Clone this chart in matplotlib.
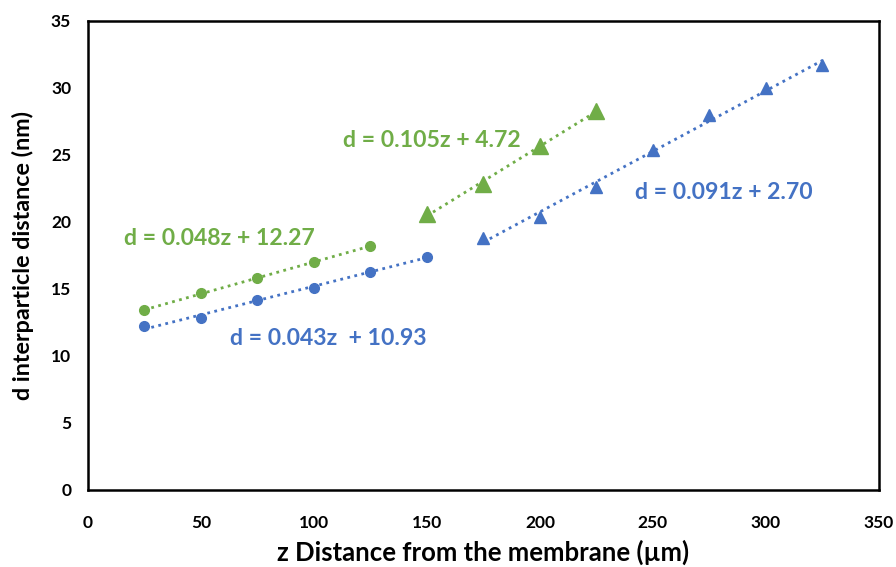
import numpy as np
import matplotlib.pyplot as plt

# data
z_circ_green = [25, 50, 75, 100, 125]
d_circ_green = [13.4, 14.7, 15.8, 17.0, 18.2]

z_circ_blue = [25, 50, 75, 100, 125, 150]
d_circ_blue = [12.2, 12.8, 14.2, 15.1, 16.3, 17.4]

z_tri_green = [150, 175, 200, 225]
d_tri_green = [20.6, 22.8, 25.7, 28.3]

z_tri_blue = [175, 200, 225, 250, 275, 300, 325]
d_tri_blue = [18.8, 20.4, 22.6, 25.4, 28.0, 30.0, 31.7]

GREEN = "#70AD47"
BLUE = "#4472C4"

plt.rcParams["font.family"] = ["Lato", "DejaVu Sans"]
plt.rcParams["font.weight"] = "bold"

fig = plt.figure(figsize=(8.96, 5.67), dpi=100)
ax = fig.add_axes([0.098, 0.136, 0.883, 0.827])


def trend(z, d, color):
    # linear trendline over the data range
    k, b = np.polyfit(z, d, 1)
    zz = np.array([min(z), max(z)])
    ax.plot(zz, k * zz + b, linestyle=(0, (1, 1.6)), color=color, lw=2)


trend(z_circ_green, d_circ_green, GREEN)
trend(z_circ_blue, d_circ_blue, BLUE)
trend(z_tri_green, d_tri_green, GREEN)
trend(z_tri_blue, d_tri_blue, BLUE)

ax.plot(z_circ_green, d_circ_green, "o", color=GREEN, ms=7, ls="none")
ax.plot(z_circ_blue, d_circ_blue, "o", color=BLUE, ms=7, ls="none")
ax.plot(z_tri_green, d_tri_green, "^", color=GREEN, ms=11.5, ls="none")
ax.plot(z_tri_blue, d_tri_blue, "^", color=BLUE, ms=8.5, ls="none")

fs = 16.6
ax.text(16, 18.8, "d = 0.048z + 12.27", color=GREEN, fontsize=fs,
        fontweight="bold", va="center")
ax.text(63, 11.3, "d = 0.043z  + 10.93", color=BLUE, fontsize=fs,
        fontweight="bold", va="center")
ax.text(113, 26.1, "d = 0.105z + 4.72", color=GREEN, fontsize=fs,
        fontweight="bold", va="center")
ax.text(242, 22.2, "d = 0.091z + 2.70", color=BLUE, fontsize=fs,
        fontweight="bold", va="center")

ax.set_xlim(0, 350)
ax.set_ylim(0, 35)
ax.set_xticks(range(0, 351, 50))
ax.set_yticks(range(0, 36, 5))
ax.tick_params(axis="x", length=0, labelsize=12.5, pad=18)
ax.tick_params(axis="y", length=0, labelsize=12.5, pad=12)
for lab in ax.get_xticklabels() + ax.get_yticklabels():
    lab.set_fontweight("bold")
for sp in ax.spines.values():
    sp.set_linewidth(1.8)
    sp.set_color("black")

ax.set_xlabel("z Distance from the membrane (µm)", fontsize=18.5,
              fontweight="bold", labelpad=6)
ax.set_ylabel("d interparticle distance (nm)", fontsize=16.8,
              fontweight="bold", labelpad=12)

fig.savefig("out.png", dpi=100)
